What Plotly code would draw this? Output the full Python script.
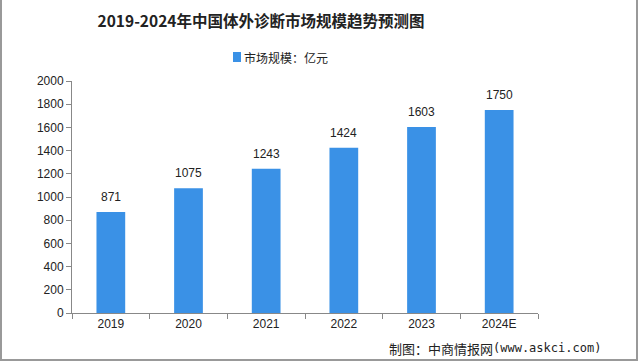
import plotly.graph_objects as go

categories = ["2019", "2020", "2021", "2022", "2023", "2024E"]
values = [871, 1075, 1243, 1424, 1603, 1750]
series_name = "市场规模：亿元"
title = "2019-2024年中国体外诊断市场规模趋势预测图"
source_cn = "制图：中商情报网"
source_url = "(www.askci.com)"

bar_color = "#3a91e6"
font_main = "Liberation Sans, Noto Sans CJK SC, sans-serif"

L, R, T, B = 72, 102, 81, 50
W, H = 640, 363
PW, PH = W - L - R, H - T - B


def px_x(x):
    return (x - L) / PW


def px_y(y):
    return (H - B - y) / PH


fig = go.Figure()
fig.add_trace(go.Bar(
    x=categories, y=values, name=series_name,
    marker=dict(color=bar_color, line=dict(width=0)),
    showlegend=False,
))

# value labels (category index positions on the category axis)
for i, v in enumerate(values):
    fig.add_annotation(x=i, y=v, xref="x", yref="y", text=str(v), showarrow=False,
                       yanchor="middle", yshift=15, font=dict(size=12, color="#222"))

fig.update_layout(
    width=W, height=H,
    margin=dict(l=L, r=R, t=T, b=B, autoexpand=False),
    paper_bgcolor="white", plot_bgcolor="white",
    font=dict(family=font_main, size=12, color="#222"),
    bargap=0.63,
    showlegend=False,
    title=dict(text="<b>" + title + "</b>", x=261 / W, xanchor="center",
               y=1 - 22 / H, yanchor="middle",
               font=dict(family="Noto Sans CJK SC, serif", size=15.5, color="#222")),
    yaxis=dict(range=[0, 2000], dtick=200, showgrid=False, showline=True,
               linecolor="#888", linewidth=1, ticks="outside", ticklen=5,
               tickcolor="#888", zeroline=False, tickfont=dict(size=12)),
    xaxis=dict(type="category", categoryorder="array", categoryarray=categories,
               range=[-0.5, len(categories) - 0.5],
               showgrid=False, showline=True, linecolor="#888", linewidth=1,
               ticks="outside", ticklen=5, tickcolor="#888", tickson="boundaries",
               tickangle=0, tickfont=dict(size=12)),
)

# manual legend
fig.add_shape(type="rect", xref="paper", yref="paper",
              x0=px_x(233), x1=px_x(241), y0=px_y(62), y1=px_y(52),
              fillcolor=bar_color, line=dict(width=0))
fig.add_annotation(text=series_name, xref="paper", yref="paper",
                   x=px_x(242), y=px_y(57), xanchor="left", yanchor="middle",
                   showarrow=False, font=dict(size=12, family="Noto Sans CJK SC", color="#222"))

# source
fig.add_annotation(text=source_cn, xref="paper", yref="paper",
                   x=px_x(387), y=px_y(348), xanchor="left", yanchor="middle",
                   showarrow=False, font=dict(size=13, family="Noto Sans CJK SC", color="#222"))
fig.add_annotation(text=source_url, xref="paper", yref="paper",
                   x=px_x(491), y=px_y(348), xanchor="left", yanchor="middle",
                   showarrow=False, font=dict(size=12, family="DejaVu Sans Mono", color="#222"))

# frame border (left, right, bottom)
for x0, y0, x1, y1 in [(1, 0, 1, 361), (637, 0, 637, 361), (0, 360, 638, 360)]:
    fig.add_shape(type="line", xref="paper", yref="paper",
                  x0=px_x(x0), y0=px_y(y0), x1=px_x(x1), y1=px_y(y1),
                  line=dict(color="#999", width=2))

fig.write_html("out.html")
